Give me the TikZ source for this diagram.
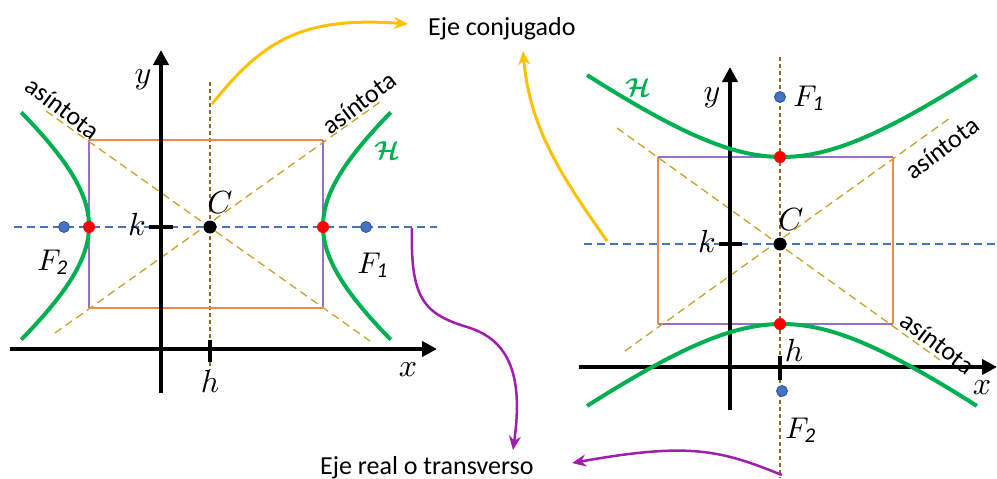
\documentclass[tikz,border=0pt]{standalone}
\usepackage{amsmath,amssymb}
\usepackage{fontspec}
\setmainfont{Carlito}
\usetikzlibrary{arrows.meta}
\definecolor{hgreen}{HTML}{00B050}
\definecolor{fblue}{HTML}{4472C4}
\definecolor{fblueD}{HTML}{2F528F}
\definecolor{rectO}{HTML}{F08A48}
\definecolor{rectP}{HTML}{9A6FC8}
\definecolor{asycol}{HTML}{C9A227}
\definecolor{vbrown}{HTML}{8C6A1E}
\definecolor{yarrow}{HTML}{FFC000}
\definecolor{parrow}{HTML}{A21CAF}
\begin{document}
\begin{tikzpicture}[x=1pt,y=-1pt,
  axisarrow/.style={line width=4pt,-{Triangle[length=15pt,width=15pt]}},
  tickmark/.style={line width=4pt},
  hcurve/.style={hgreen,line width=4pt},
  asym/.style={asycol,line width=1.3pt,dash pattern=on 8pt off 5pt},
  vline/.style={vbrown,line width=1.2pt,dash pattern=on 4pt off 3pt},
  hline/.style={fblue,line width=1.2pt,dash pattern=on 8pt off 5pt},
  edgeO/.style={rectO,line width=1.5pt},
  edgeP/.style={rectP,line width=1.5pt},
  reddot/.style={circle,fill=red,inner sep=0pt,minimum size=12pt},
  bluedot/.style={circle,fill=fblue,draw=fblueD,line width=0.8pt,inner sep=0pt,minimum size=11pt},
  cdot/.style={circle,fill=black,inner sep=0pt,minimum size=13pt},
  mlbl/.style={inner sep=0pt,scale=3.2},
  flbl/.style={inner sep=0pt,scale=3.0},
  asylbl/.style={inner sep=0pt,font=\fontsize{26}{26}\selectfont},
  txt/.style={inner sep=0pt,font=\fontsize{26}{26}\selectfont},
  hlbl/.style={inner sep=0pt,text=hgreen,scale=2.6},
  yarr/.style={yarrow,line width=3pt,-{Stealth[length=14pt,width=12pt]}},
  parr/.style={parrow,line width=2.5pt,-{Stealth[length=14pt,width=12pt]}}
]
\useasboundingbox (0,0) rectangle (997,479);

% ================= LEFT DIAGRAM =================
\coordinate (LvT) at (210,82);
\coordinate (LvB) at (210,370);
\coordinate (LhL) at (14,227);
\coordinate (LhR) at (437,227);
\draw[vline] (LvT) -- (LvB);
\draw[hline] (LhL) -- (LhR);

% rectangle
\coordinate (LR1) at (89,140);
\coordinate (LR2) at (323,140);
\coordinate (LR3) at (323,308);
\coordinate (LR4) at (89,308);
\draw[edgeO] (LR1) -- (LR2);
\draw[edgeO] (LR4) -- (LR3);
\draw[edgeP] (LR1) -- (LR4);
\draw[edgeP] (LR2) -- (LR3);

% asymptotes
\coordinate (LA1s) at (46,111);
\coordinate (LA1e) at (370,341);
\coordinate (LA2s) at (55,333);
\coordinate (LA2e) at (380,102);
\draw[asym] (LA1s) -- (LA1e);
\draw[asym] (LA2s) -- (LA2e);

% axes
\coordinate (LxS) at (10,349);
\coordinate (LxE) at (437,349);
\coordinate (LyS) at (161,393);
\coordinate (LyE) at (161,50);
\draw[axisarrow] (LxS) -- (LxE);
\draw[axisarrow] (LyS) -- (LyE);

% ticks
\coordinate (LkA) at (149,227);
\coordinate (LkB) at (173,227);
\coordinate (LhA) at (210,340);
\coordinate (LhB) at (210,362);
\draw[tickmark] (LkA) -- (LkB);
\draw[tickmark] (LhA) -- (LhB);

% hyperbola branches
\draw[hcurve] plot[domain=-1.03:1.03,samples=41,smooth]
  ({206+117*(exp(\x)+exp(-\x))/2},{226+93*(exp(\x)-exp(-\x))/2});
\draw[hcurve] plot[domain=-1.03:1.03,samples=41,smooth]
  ({206-117*(exp(\x)+exp(-\x))/2},{226+93*(exp(\x)-exp(-\x))/2});

% points
\node[reddot] (LV1) at (89,227) {};
\node[reddot] (LV2) at (323,227) {};
\node[bluedot] (LF2) at (64,227) {};
\node[bluedot] (LF1) at (366,227) {};
\node[cdot] (LC) at (210,227) {};

% labels
\node[mlbl] (Lylab) at (143,80) {$y$};
\node[mlbl] (Lxlab) at (408,370) {$x$};
\node[mlbl] (Lhlab) at (210,381) {$h$};
\node[mlbl] (Lklab) at (137,224) {$k$};
\node[mlbl] (LClab) at (220,203) {$C$};
\node[flbl] (LF2lab) at (53,262) {$F_{\mathit{2}}$};
\node[flbl] (LF1lab) at (373,265) {$F_{\mathit{1}}$};
\node[hlbl] (LHlab) at (387,151) {$\boldsymbol{\mathcal{H}}$};
\node[asylbl,rotate=-37] (Lasy1) at (63,108) {asíntota};
\node[asylbl,rotate=37] (Lasy2) at (359,103) {asíntota};

% ================= RIGHT DIAGRAM =================
\coordinate (RvT) at (780,57);
\coordinate (RvB) at (780,478);
\coordinate (RhL) at (584,244);
\coordinate (RhR) at (997,244);
\draw[vline] (RvT) -- (RvB);
\draw[hline] (RhL) -- (RhR);

\coordinate (RR1) at (658,157);
\coordinate (RR2) at (893,157);
\coordinate (RR3) at (893,324);
\coordinate (RR4) at (658,324);
\draw[edgeP] (RR1) -- (RR2);
\draw[edgeP] (RR4) -- (RR3);
\draw[edgeO] (RR1) -- (RR4);
\draw[edgeO] (RR2) -- (RR3);

\coordinate (RA1s) at (617,128);
\coordinate (RA1e) at (940,360);
\coordinate (RA2s) at (625,351);
\coordinate (RA2e) at (950,118);
\draw[asym] (RA1s) -- (RA1e);
\draw[asym] (RA2s) -- (RA2e);

\coordinate (RxS) at (579,367);
\coordinate (RxE) at (997,367);
\coordinate (RyS) at (730,410);
\coordinate (RyE) at (730,67);
\draw[axisarrow] (RxS) -- (RxE);
\draw[axisarrow] (RyS) -- (RyE);

\coordinate (RkA) at (719,244);
\coordinate (RkB) at (742,244);
\coordinate (RhA) at (780,356);
\coordinate (RhB) at (780,380);
\draw[tickmark] (RkA) -- (RkB);
\draw[tickmark] (RhA) -- (RhB);

\draw[hcurve] plot[domain=-1.306:1.306,samples=41,smooth]
  ({782+114*(exp(\x)-exp(-\x))/2},{240.5-83.5*(exp(\x)+exp(-\x))/2});
\draw[hcurve] plot[domain=-1.306:1.306,samples=41,smooth]
  ({782+114*(exp(\x)-exp(-\x))/2},{240.5+83.5*(exp(\x)+exp(-\x))/2});

\node[reddot] (RV1) at (780,157) {};
\node[reddot] (RV2) at (780,324) {};
\node[bluedot] (RF1) at (780,97) {};
\node[bluedot] (RF2) at (782,391) {};
\node[cdot] (RC) at (780,244) {};

\node[mlbl] (Rylab) at (712,98) {$y$};
\node[mlbl] (Rxlab) at (982,388) {$x$};
\node[mlbl] (Rhlab) at (794,350) {$h$};
\node[mlbl] (Rklab) at (707,241) {$k$};
\node[mlbl] (RClab) at (791,220) {$C$};
\node[flbl] (RF1lab) at (809,98) {$F_{\mathit{1}}$};
\node[flbl] (RF2lab) at (801,430) {$F_{\mathit{2}}$};
\node[hlbl] (RHlab) at (638,88) {$\boldsymbol{\mathcal{H}}$};
\node[asylbl,rotate=37] (Rasy1) at (942,148) {asíntota};
\node[asylbl,rotate=-37] (Rasy2) at (938,343) {asíntota};

% ================= TITLES AND ARROWS =================
\node[txt,anchor=base west] (conj) at (428,35) {Eje conjugado};
\node[txt,anchor=base west] (real) at (320,474) {Eje real o transverso};

\coordinate (Y1s) at (212,104);
\coordinate (Y1e) at (408,24);
\draw[yarr] (Y1s) .. controls (262,42) and (300,16) .. (Y1e);
\coordinate (Y2s) at (607,241);
\coordinate (Y2e) at (523,51);
\draw[yarr] (Y2s) .. controls (563,178) and (530,130) .. (Y2e);

\coordinate (P1s) at (412,228);
\coordinate (P1m) at (467,327);
\coordinate (P1e) at (513,450);
\draw[parr] (P1s) .. controls (410,300) and (425,314) .. (P1m)
  .. controls (507,339) and (524,372) .. (P1e);
\coordinate (P2s) at (782,475);
\coordinate (P2e) at (572,463);
\draw[parr] (P2s) .. controls (720,450) and (690,442) .. (P2e);
\end{tikzpicture}
\end{document}
